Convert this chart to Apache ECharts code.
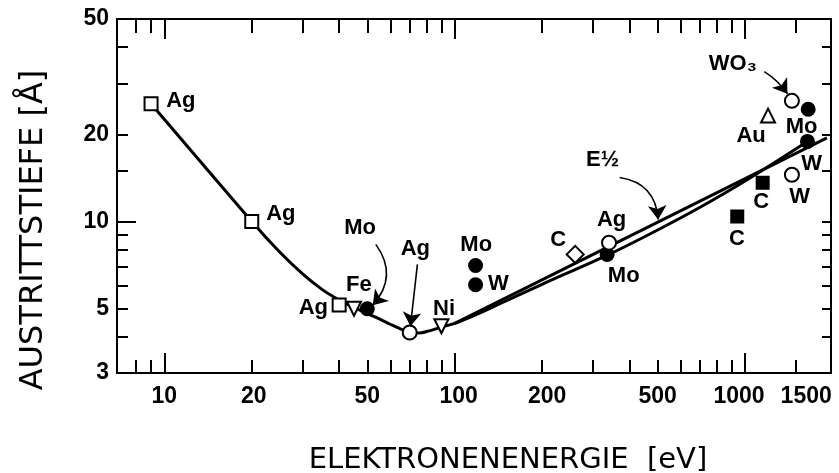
<!DOCTYPE html>
<html>
<head>
<meta charset="utf-8">
<script src="https://cdn.jsdelivr.net/npm/echarts@6/dist/echarts.min.js"></script>
<style>
html, body { margin: 0; padding: 0; background: #fff; }
#chart { width: 839px; height: 473px; }
</style>
</head>
<body>
<div id="chart"></div>
<script>
// ---- axis ranges and ticks (energy in eV, depth in Å) ----
const energyRange = [6.87, 1977];
const depthRange = [3, 50];
const energyLabels = [10, 20, 50, 100, 200, 500, 1000, 1500];
const energyMajorTicks = [10, 100, 1000];
const energyMinorTicks = [8, 9, 20, 30, 40, 50, 60, 70, 80, 90, 200, 300, 400, 500, 600, 700, 800, 900, 1500];
const depthLabels = [3, 5, 10, 20, 50];
const depthMajorTicks = [10];
const depthMinorTicks = [4, 5, 6, 7, 8, 9, 15, 20, 30, 40];
const depthRightTicks = [4, 5, 6, 7, 8, 9, 10, 15, 20, 30, 40];

// ---- universal curve ----
const curveEnergy = [9, 20, 25, 30, 35, 40, 45, 50, 55, 60, 65, 70, 75, 80, 90, 100, 120, 140, 200, 340, 500, 700, 1000, 1640];
const curveDepth = [25.5, 10.0, 7.83, 6.58, 5.82, 5.36, 5.05, 4.81, 4.61, 4.42, 4.26, 4.15, 4.12, 4.17, 4.32, 4.45, 4.8, 5.15, 6.07, 7.7, 9.35, 11.2, 13.8, 18.9];

// ---- E^1/2 line ----
const sqrtEnergy = [100, 1914];
const sqrtDepth = [4.45, 19.45];

// ---- measured points, grouped by symbol ----
const openSquareE = [9, 20, 40];
const openSquareD = [25.5, 10.0, 5.15];
const triDownE = [45, 90];
const triDownD = [5.0, 4.35];
const filledCircleE = [50, 118, 118, 335, 1650, 1640];
const filledCircleD = [5.0, 7.05, 6.05, 7.7, 24.4, 18.9];
const openCircleE = [70, 340, 1450, 1450];
const openCircleD = [4.14, 8.45, 26.1, 14.5];
const triUpE = [1200];
const triUpD = [23.2];
const diamondE = [260];
const diamondD = [7.7];
const filledSquareE = [940, 1150];
const filledSquareD = [10.4, 13.6];

// ---- annotation texts [energy, depth, text] ----
const annotations = [
  [11.4, 26.1, 'Ag'], [25.2, 10.66, 'Ag'], [32.6, 5.02, 'Ag'],
  [46.8, 6.03, 'Fe'], [47.2, 9.47, 'Mo'], [73.2, 8.01, 'Ag'],
  [91.9, 4.98, 'Ni'], [118.6, 8.27, 'Mo'], [141.5, 6.07, 'W'],
  [227, 8.61, 'C'], [347, 10.09, 'Ag'], [382, 6.47, 'Mo'],
  [323, 16.35, 'E½'], [938, 8.68, 'C'], [1137, 11.72, 'C'],
  [1049, 19.78, 'Au'], [1566, 21.25, 'Mo'], [1697, 15.85, 'W'],
  [1542, 12.2, 'W'], [908, 35.0, 'WO₃']
];

// ---- pointer arrows [startE, startD, endE, endD, curveness] ----
const arrows = [
  [53.5, 8.34, 52.2, 5.14, 0.4],
  [74.4, 7.11, 70.4, 4.35, 0],
  [1165, 32.9, 1400, 27.6, 0.1],
  [370, 14.18, 502, 10.16, 0.4]
];

// horizontal nudges (px) for crowded energy labels
const energyLabelNudge = { 20: 2, 100: 4, 200: 5, 1000: -6, 1500: 10 };

// both axes are logarithmic: plot log10 values on linear value axes
const lg = Math.log10;
const pair = (es, ds) => es.map((e, i) => [lg(e), lg(ds[i])]);
const toNum = v => Math.round(Math.pow(10, v));

const FONT = 'Liberation Sans';
const black = '#000';

const energyRich = {};
energyLabels.forEach(e => {
  const n = energyLabelNudge[e] || 0;
  energyRich['e' + e] = {
    color: black, fontFamily: FONT, fontSize: 23, fontWeight: 'bold',
    padding: [0, n < 0 ? -2 * n : 0, 0, n > 0 ? 2 * n : 0]
  };
});

function energyAxis(position, ticks, len, withLabels, withLine) {
  return {
    type: 'value', position: position,
    min: lg(energyRange[0]), max: lg(energyRange[1]),
    axisLine: { show: withLine, lineStyle: { color: black, width: 2 } },
    axisTick: { show: true, inside: true, length: len, customValues: ticks.map(lg),
                lineStyle: { color: black, width: 2 } },
    axisLabel: withLabels ? {
      show: true, customValues: energyLabels.map(lg), margin: 12,
      formatter: v => { const n = toNum(v); return '{e' + n + '|' + n + '}'; },
      rich: energyRich, color: black, fontFamily: FONT, fontSize: 23, fontWeight: 'bold'
    } : { show: false },
    splitLine: { show: false }
  };
}
function depthAxis(position, ticks, len, withLabels, withLine) {
  return {
    type: 'value', position: position,
    min: lg(depthRange[0]), max: lg(depthRange[1]),
    axisLine: { show: withLine, lineStyle: { color: black, width: 2 } },
    axisTick: { show: true, inside: true, length: len, customValues: ticks.map(lg),
                lineStyle: { color: black, width: 2 } },
    axisLabel: withLabels ? {
      show: true, customValues: depthLabels.map(lg), formatter: v => String(toNum(v)), margin: 8,
      color: black, fontFamily: FONT, fontSize: 23, fontWeight: 'bold'
    } : { show: false },
    splitLine: { show: false }
  };
}

function markers(es, ds, symbol, size, filled, rotate) {
  return {
    type: 'scatter', data: pair(es, ds), symbol: symbol, symbolSize: size,
    symbolRotate: rotate || 0, silent: true, z: 5,
    itemStyle: { color: filled ? black : '#fff', borderColor: black, borderWidth: 2, opacity: 1 }
  };
}

const chart = echarts.init(document.getElementById('chart'), null, { renderer: 'canvas' });
chart.setOption({
  animation: false,
  backgroundColor: '#fff',
  grid: { left: 117, right: 8, top: 19, bottom: 100, containLabel: false, outerBoundsMode: 'none' },
  xAxis: [
    energyAxis('bottom', energyMajorTicks, 20, true, true),
    energyAxis('bottom', energyMinorTicks, 13, false, false),
    energyAxis('top', energyMajorTicks, 20, false, true),
    energyAxis('top', energyMinorTicks, 14, false, false)
  ],
  yAxis: [
    depthAxis('left', depthMinorTicks, 11, true, true),
    depthAxis('left', depthMajorTicks, 19, false, false),
    depthAxis('right', depthRightTicks, 9, false, true)
  ],
  graphic: [
    { type: 'text', x: 508, y: 460, silent: true,
      style: { text: 'ELEKTRONENENERGIE  [eV]', align: 'center', verticalAlign: 'middle',
               font: '29px "DejaVu Sans"', fill: black } },
    { type: 'text', x: 34, y: 230, rotation: Math.PI / 2, silent: true,
      style: { text: 'AUSTRITTSTIEFE [Å]', align: 'center', verticalAlign: 'middle',
               font: '32px "DejaVu Sans"', fill: black } }
  ],
  series: [
    { type: 'line', data: pair(curveEnergy, curveDepth), smooth: 0.3,
      showSymbol: false, silent: true, z: 2, lineStyle: { color: black, width: 3 } },
    { type: 'line', data: pair(sqrtEnergy, sqrtDepth), showSymbol: false, silent: true, z: 2,
      lineStyle: { color: black, width: 3 } },
    markers(openSquareE, openSquareD, 'rect', 13, false),
    markers(triDownE, triDownD, 'triangle', 14, false, 180),
    markers(filledCircleE, filledCircleD, 'circle', 13, true),
    markers(openCircleE, openCircleD, 'circle', 14, false),
    markers(triUpE, triUpD, 'triangle', 14, false),
    markers(diamondE, diamondD, 'diamond', 17, false),
    markers(filledSquareE, filledSquareD, 'rect', 12, true),
    { type: 'lines', coordinateSystem: 'cartesian2d', silent: true, z: 6,
      symbol: ['none', 'arrow'], symbolSize: 14,
      data: arrows.map(a => ({
        coords: [[lg(a[0]), lg(a[1])], [lg(a[2]), lg(a[3])]],
        lineStyle: { curveness: a[4] }
      })),
      lineStyle: { color: black, width: 1.6, opacity: 1 } },
    { type: 'scatter', silent: true, z: 7, symbolSize: 1,
      itemStyle: { color: 'rgba(0,0,0,0)', opacity: 1 },
      data: annotations.map(a => ({ value: [lg(a[0]), lg(a[1])], name: a[2] })),
      label: { show: true, position: 'inside', formatter: p => p.name, opacity: 1,
               color: black, fontFamily: FONT, fontSize: 22, fontWeight: 'bold' } }
  ]
});
</script>
</body>
</html>
